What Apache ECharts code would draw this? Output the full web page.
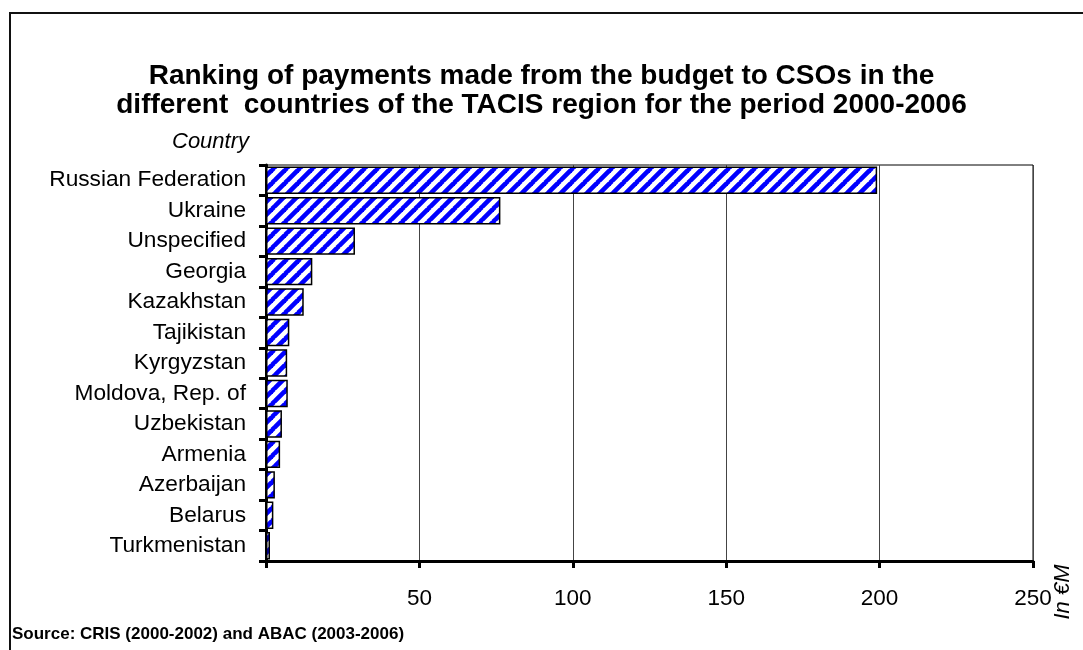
<!DOCTYPE html>
<html>
<head>
<meta charset="utf-8">
<script src="https://cdn.jsdelivr.net/npm/echarts@6/dist/echarts.min.js"></script>
<style>
  html, body { margin: 0; padding: 0; background: #fff; }
  #chart { width: 1083px; height: 650px; }
</style>
</head>
<body>
<div id="chart"></div>
<script>
// Payments to CSOs by country, 2000-2006 (in € million)
const countries = [
  'Russian Federation', 'Ukraine', 'Unspecified', 'Georgia', 'Kazakhstan',
  'Tajikistan', 'Kyrgyzstan', 'Moldova, Rep. of', 'Uzbekistan', 'Armenia',
  'Azerbaijan', 'Belarus', 'Turkmenistan'
];
const payments = [199.2, 76.4, 29.0, 15.1, 12.3, 7.6, 6.9, 7.1, 5.2, 4.6, 2.9, 2.4, 1.3];
const valueTicks = [0, 50, 100, 150, 200, 250];

// Diagonal blue hatching used as the bar fill
function hatchPattern() {
  const s = 13;
  const c = document.createElement('canvas');
  c.width = s; c.height = s;
  const g = c.getContext('2d');
  g.fillStyle = '#fff';
  g.fillRect(0, 0, s, s);
  g.strokeStyle = '#0000ff';
  g.lineWidth = 4.6;
  for (let k = -1; k <= 1; k++) {
    g.beginPath();
    g.moveTo(k * s - 1, s + 1);
    g.lineTo(k * s + s + 1, -1);
    g.stroke();
  }
  return c;
}

const font = '"Liberation Sans", Arial, sans-serif';
const chart = echarts.init(document.getElementById('chart'), null, { renderer: 'canvas' });

chart.setOption({
  animation: false,
  backgroundColor: '#fff',
  title: {
    text: 'Ranking of payments made from the budget to CSOs in the\ndifferent  countries of the TACIS region for the period 2000-2006',
    left: 'center',
    top: 57,
    textStyle: { fontFamily: font, fontSize: 28, fontWeight: 'bold', color: '#000', lineHeight: 29 }
  },
  grid: { left: 266, right: 50, top: 165, bottom: 89, show: true, borderColor: '#000', borderWidth: 1 },
  xAxis: {
    type: 'value',
    min: valueTicks[0],
    max: valueTicks[valueTicks.length - 1],
    interval: valueTicks[1] - valueTicks[0],
    axisLine: { show: true, lineStyle: { color: '#000', width: 3 } },
    axisTick: { show: true, length: 7, lineStyle: { color: '#000', width: 3 } },
    axisLabel: {
      margin: 26,
      fontFamily: font, fontSize: 22.5, color: '#000',
      formatter: v => (v === 0 ? '' : String(v))
    },
    splitLine: { show: true, lineStyle: { color: '#444', width: 1 } }
  },
  yAxis: {
    type: 'category',
    data: countries,
    inverse: true,
    axisLine: { show: true, lineStyle: { color: '#000', width: 3 } },
    axisTick: { show: true, length: 7, lineStyle: { color: '#000', width: 3 } },
    axisLabel: { margin: 20, fontFamily: font, fontSize: 22.7, color: '#000' },
    splitLine: { show: false }
  },
  series: [{
    type: 'bar',
    data: payments,
    barCategoryGap: '10%',
    itemStyle: {
      color: { image: hatchPattern(), repeat: 'repeat' },
      borderColor: '#000',
      borderWidth: 1.5
    }
  }],
  graphic: [
    {
      type: 'rect',
      shape: { x: 10, y: 13, width: 1100, height: 700 },
      style: { fill: null, stroke: '#111', lineWidth: 2 },
      silent: true
    },
    {
      type: 'text',
      left: 172, top: 131,
      style: { text: 'Country', fontFamily: font, fontSize: 22, fontStyle: 'italic', fill: '#000' }
    },
    {
      type: 'text',
      x: 1063, y: 592,
      rotation: Math.PI / 2,
      style: {
        text: 'In €M', fontFamily: font, fontSize: 22, fontStyle: 'italic', fill: '#000',
        align: 'center', verticalAlign: 'middle'
      }
    },
    {
      type: 'text',
      left: 12, top: 626,
      style: { text: 'Source: CRIS (2000-2002) and ABAC (2003-2006)', fontFamily: font, fontSize: 17, fontWeight: 'bold', fill: '#000' }
    }
  ]
});
</script>
</body>
</html>
